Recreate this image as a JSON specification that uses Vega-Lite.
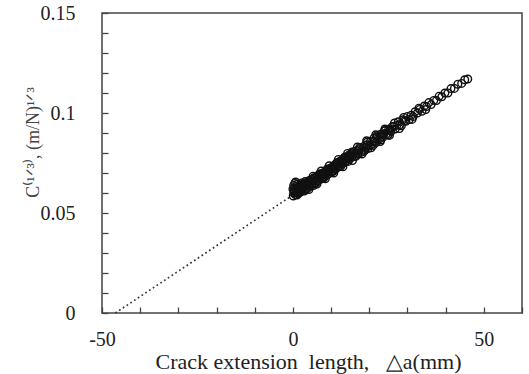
{
  "$schema": "https://vega.github.io/schema/vega-lite/v6.json",
  "width": 420,
  "height": 300,
  "autosize": {"type": "none"},
  "padding": {"left": 102, "top": 13, "right": 7, "bottom": 61},
  "background": "white",
  "config": {
    "view": {"stroke": "#444", "strokeWidth": 1.5},
    "font": "Liberation Serif",
    "axis": {"grid": false, "domain": false, "tickColor": "#444", "tickWidth": 1.3, "tickSize": -6, "tickCount": 40, "labelOverlap": false, "labelFlush": false, "labelFont": "Liberation Serif", "labelFontSize": 20, "labelColor": "#222", "titleFont": "Liberation Serif", "titleFontWeight": "normal", "titleColor": "#222"}
  },
  "datasets": {
    "pts": [
      {"a":0.1,"c":0.0585},{"a":0.2,"c":0.0600},{"a":0.3,"c":0.0612},{"a":0.4,"c":0.0625},{"a":0.2,"c":0.0638},{"a":0.5,"c":0.0648},{"a":0.6,"c":0.0592},{"a":0.8,"c":0.0604},{"a":0.9,"c":0.0620},{"a":1.0,"c":0.0633},{"a":1.1,"c":0.0590},{"a":1.2,"c":0.0645},{"a":1.4,"c":0.0610},{"a":1.5,"c":0.0628},{"a":1.6,"c":0.0600},{"a":1.8,"c":0.0641},{"a":1.9,"c":0.0618},{"a":2.0,"c":0.0605},{"a":2.1,"c":0.0632},{"a":2.3,"c":0.0650},{"a":0.0,"c":0.0620},{"a":0.7,"c":0.0655},{"a":1.3,"c":0.0597},{"a":2.4,"c":0.0615},{"a":2.6,"c":0.0640},
      {"a":2.8,"c":0.0628},{"a":3.0,"c":0.0610},{"a":3.1,"c":0.0645},{"a":3.3,"c":0.0632},{"a":3.5,"c":0.0618},{"a":3.6,"c":0.0652},{"a":3.8,"c":0.0640},{"a":4.0,"c":0.0627},{"a":4.1,"c":0.0660},{"a":4.3,"c":0.0645},{"a":4.5,"c":0.0633},{"a":4.7,"c":0.0655},{"a":4.9,"c":0.0640},{"a":5.0,"c":0.0668},{"a":5.2,"c":0.0650},{"a":5.4,"c":0.0637},{"a":5.6,"c":0.0662},{"a":5.8,"c":0.0675},{"a":6.0,"c":0.0652},{"a":6.2,"c":0.0668},{"a":6.4,"c":0.0684},{"a":6.5,"c":0.0660},{"a":6.7,"c":0.0676},{"a":6.9,"c":0.0690},{"a":7.1,"c":0.0667},{"a":7.3,"c":0.0682},{"a":7.5,"c":0.0695},{"a":7.6,"c":0.0672},{"a":7.8,"c":0.0688},{"a":8.0,"c":0.0701},{"a":8.2,"c":0.0680},{"a":8.4,"c":0.0694},{"a":8.6,"c":0.0708},{"a":8.8,"c":0.0688},{"a":9.0,"c":0.0702},{"a":9.2,"c":0.0715},{"a":9.4,"c":0.0696},{"a":9.6,"c":0.0710},{"a":9.8,"c":0.0724},{"a":10.0,"c":0.0705},
      {"a":10.2,"c":0.0720},{"a":10.4,"c":0.0732},{"a":10.6,"c":0.0712},{"a":10.8,"c":0.0727},{"a":11.0,"c":0.0741},{"a":11.2,"c":0.0720},{"a":11.4,"c":0.0736},{"a":11.6,"c":0.0749},{"a":11.8,"c":0.0730},{"a":12.0,"c":0.0744},{"a":12.2,"c":0.0757},{"a":12.4,"c":0.0738},{"a":12.6,"c":0.0752},{"a":12.8,"c":0.0765},{"a":13.0,"c":0.0746},{"a":13.2,"c":0.0760},{"a":13.4,"c":0.0773},{"a":13.6,"c":0.0754},{"a":13.8,"c":0.0768},{"a":14.0,"c":0.0781},{"a":14.2,"c":0.0762},{"a":14.4,"c":0.0776},{"a":14.6,"c":0.0789},{"a":14.8,"c":0.0770},{"a":15.0,"c":0.0784},{"a":15.3,"c":0.0797},{"a":15.5,"c":0.0779},{"a":15.8,"c":0.0792},{"a":16.0,"c":0.0806},{"a":16.3,"c":0.0786},{"a":16.5,"c":0.0800},{"a":16.8,"c":0.0813},{"a":17.0,"c":0.0795},{"a":17.3,"c":0.0808},{"a":17.6,"c":0.0822},{"a":17.9,"c":0.0803},{"a":18.2,"c":0.0818},{"a":18.5,"c":0.0832},{"a":18.8,"c":0.0812},{"a":19.1,"c":0.0827},{"a":19.4,"c":0.0841},{"a":19.7,"c":0.0822},{"a":20.0,"c":0.0836},
      {"a":10.5,"c":0.0707},{"a":11.5,"c":0.0752},{"a":12.5,"c":0.0732},{"a":13.5,"c":0.0779},{"a":14.5,"c":0.0758},{"a":15.5,"c":0.0805},{"a":16.5,"c":0.0783},{"a":17.5,"c":0.0828},{"a":18.5,"c":0.0807},{"a":19.5,"c":0.0855},{"a":21.0,"c":0.0838},{"a":22.0,"c":0.0887},{"a":23.0,"c":0.0865},{"a":24.0,"c":0.0912},{"a":25.0,"c":0.0892},{"a":6.0,"c":0.0649},{"a":7.0,"c":0.0696},{"a":8.0,"c":0.0674},{"a":9.0,"c":0.0720},{"a":4.5,"c":0.0664},{"a":3.5,"c":0.0619},{"a":5.5,"c":0.0676},
      {"a":3.2,"c":0.0657},{"a":4.2,"c":0.0617},{"a":5.3,"c":0.0684},{"a":6.3,"c":0.0645},{"a":7.4,"c":0.0710},{"a":8.5,"c":0.0671},{"a":9.5,"c":0.0736},{"a":10.7,"c":0.0700},{"a":11.9,"c":0.0768},{"a":13.1,"c":0.0731},{"a":14.3,"c":0.0798},{"a":15.6,"c":0.0762},{"a":16.9,"c":0.0830},{"a":18.1,"c":0.0795},{"a":19.3,"c":0.0861},{"a":20.5,"c":0.0826},{"a":21.7,"c":0.0891},{"a":22.9,"c":0.0857},{"a":24.1,"c":0.0920},{"a":25.3,"c":0.0888},{"a":26.6,"c":0.0950},{"a":27.9,"c":0.0922},{"a":29.0,"c":0.0978},{"a":31.2,"c":0.0968},{"a":33.0,"c":0.1024},{"a":34.8,"c":0.1017},
      {"a":20.3,"c":0.0856},{"a":20.6,"c":0.0842},{"a":20.9,"c":0.0858},{"a":21.2,"c":0.0874},{"a":21.5,"c":0.0858},{"a":21.8,"c":0.0852},{"a":22.1,"c":0.0881},{"a":22.4,"c":0.0875},{"a":22.7,"c":0.0871},{"a":23.0,"c":0.0894},{"a":23.3,"c":0.0894},{"a":23.6,"c":0.0880},{"a":23.9,"c":0.0897},{"a":24.2,"c":0.0912},{"a":24.5,"c":0.0896},{"a":24.8,"c":0.0890},{"a":25.1,"c":0.0919},{"a":25.4,"c":0.0913},{"a":25.7,"c":0.0909},{"a":26.0,"c":0.0932},{"a":26.4,"c":0.0933},{"a":26.8,"c":0.0920},{"a":27.2,"c":0.0938},{"a":27.6,"c":0.0956},{"a":28.0,"c":0.0941},{"a":28.4,"c":0.0936},{"a":28.8,"c":0.0966},{"a":29.2,"c":0.0961},{"a":29.6,"c":0.0959},{"a":30.0,"c":0.0983},
      {"a":30.5,"c":0.0967},{"a":31.0,"c":0.0989},{"a":31.5,"c":0.0982},{"a":32.0,"c":0.1006},{"a":32.6,"c":0.1000},{"a":33.2,"c":0.1018},{"a":33.8,"c":0.1009},{"a":34.4,"c":0.1035},{"a":35.0,"c":0.1032},{"a":35.6,"c":0.1052},{"a":36.2,"c":0.1042},{"a":36.9,"c":0.1063},{"a":37.6,"c":0.1062},{"a":38.3,"c":0.1084},{"a":39.0,"c":0.1081},{"a":39.8,"c":0.1100},{"a":40.6,"c":0.1100},{"a":41.4,"c":0.1122},{"a":42.3,"c":0.1123},{"a":43.2,"c":0.1144},{"a":44.2,"c":0.1148},{"a":45.0,"c":0.1166},{"a":45.8,"c":0.1170}
    ],
    "fit": [
      {"a": -46.5, "c": 0},
      {"a": 0, "c": 0.059}
    ]
  },
  "layer": [
    {
      "data": {"name": "fit"},
      "mark": {"type": "line", "color": "#333", "strokeWidth": 1.7, "strokeDash": [1.7, 2.8]},
      "encoding": {
        "x": {"field": "a", "type": "quantitative"},
        "y": {"field": "c", "type": "quantitative"}
      }
    },
    {
      "data": {"name": "pts"},
      "mark": {"type": "point", "shape": "circle", "filled": false, "size": 58, "color": "#111", "strokeWidth": 1.4, "opacity": 1},
      "encoding": {
        "x": {
          "field": "a", "type": "quantitative",
          "scale": {"domain": [-50, 60], "nice": false, "zero": false},
          "axis": {
            "values": [-50, -40, -30, -20, -10, 0, 10, 20, 30, 40, 50, 60],
            "tickCount": 40,
            "labelExpr": "datum.value % 50 === 0 ? replace(datum.label, '\u2212', '-') : ''",
            "labelPadding": 22,
            "title": "Crack extension\u00a0 length,\u00a0\u00a0 \u25b3a(mm)",
            "titleFontSize": 22,
            "titleBaseline": "alphabetic",
            "titleX": 206,
            "titleY": 55,
            "titleAnchor": "middle"
          }
        },
        "y": {
          "field": "c", "type": "quantitative",
          "scale": {"domain": [0, 0.15], "nice": false, "zero": false},
          "axis": {
            "values": [0, 0.01, 0.02, 0.03, 0.04, 0.05, 0.06, 0.07, 0.08, 0.09, 0.1, 0.11, 0.12, 0.13, 0.14, 0.15],
            "tickCount": 40,
            "labelExpr": "round(datum.value * 100) % 5 === 0 ? format(datum.value, '~g') : ''",
            "labelPadding": 33,
            "title": "C\u207d\u00b9\u141f\u00b3\u207e, (m/N)\u00b9\u141f\u00b3",
            "titleFontSize": 18,
            "titleColor": "#444",
            "titleBaseline": "alphabetic",
            "titleAngle": -90,
            "titleX": -64,
            "titleY": 129,
            "titleAnchor": "middle"
          }
        }
      }
    }
  ]
}
